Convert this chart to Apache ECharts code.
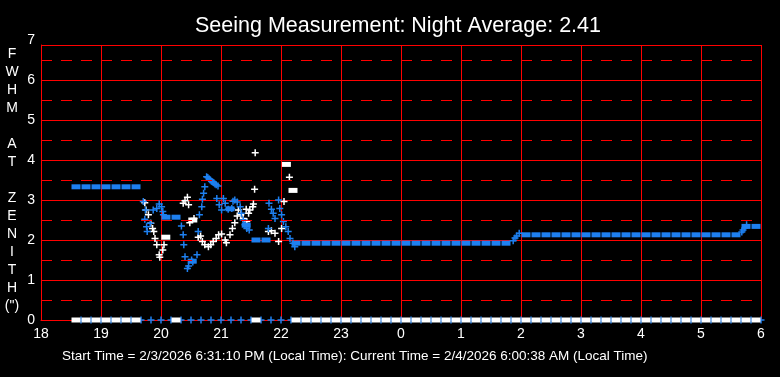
<!DOCTYPE html>
<html>
<head>
<meta charset="utf-8">
<script src="https://cdn.jsdelivr.net/npm/echarts@6/dist/echarts.min.js"></script>
<style>
  html, body { margin: 0; padding: 0; background: #000; }
  #chart { width: 780px; height: 377px; }
</style>
</head>
<body>
<div id="chart"></div>
<script>
const FONT = '"Liberation Sans Narrow", "Liberation Sans", Arial, sans-serif';
const BLUE = "#1e80f0";

// 10 minute slots over the night
const slots = [
  "18:35", "18:45", "18:55",
  "19:05", "19:15", "19:25", "19:35", "19:45", "19:55",
  "20:05", "20:15", "20:25", "20:35", "20:45", "20:55",
  "21:05", "21:15", "21:25", "21:35", "21:45", "21:55",
  "22:05", "22:15", "22:25", "22:35", "22:45", "22:55",
  "23:05", "23:15", "23:25", "23:35", "23:45", "23:55",
  "00:05", "00:15", "00:25", "00:35", "00:45", "00:55",
  "01:05", "01:15", "01:25", "01:35", "01:45", "01:55",
  "02:05", "02:15", "02:25", "02:35", "02:45", "02:55",
  "03:05", "03:15", "03:25", "03:35", "03:45", "03:55",
  "04:05", "04:15", "04:25", "04:35", "04:45", "04:55",
  "05:05", "05:15", "05:25", "05:35", "05:45", "05:55",
];

// blue steady readings per slot (null = none)
const blueLevel = [
  3.33, 3.33, 3.33,
  3.33, 3.33, 3.33, 3.33, null, null,
  2.57, 2.57, null, null, null, null,
  null, null, null, 2.0, 2.0, null,
  null, 1.92, 1.92, 1.92, 1.92, 1.92,
  1.92, 1.92, 1.92, 1.92, 1.92, 1.92,
  1.92, 1.92, 1.92, 1.92, 1.92, 1.92,
  1.92, 1.92, 1.92, 1.92, 1.92, null,
  2.13, 2.13, 2.13, 2.13, 2.13, 2.13,
  2.13, 2.13, 2.13, 2.13, 2.13, 2.13,
  2.13, 2.13, 2.13, 2.13, 2.13, 2.13,
  2.13, 2.13, 2.13, 2.13, 2.34, 2.34,
];

// zero readings per slot
const whiteZero = [
  0, 0, 0,
  0, 0, 0, 0, null, null,
  null, 0, null, null, null, null,
  null, null, null, 0, null, null,
  null, 0, 0, 0, 0, 0,
  0, 0, 0, 0, 0, 0,
  0, 0, 0, 0, 0, 0,
  0, 0, 0, 0, 0, 0,
  0, 0, 0, 0, 0, 0,
  0, 0, 0, 0, 0, 0,
  0, 0, 0, 0, 0, 0,
  0, 0, 0, 0, 0, 0,
];
const blueZero = [
  0, 0, 0,
  0, 0, 0, 0, 0, 0,
  0, 0, 0, 0, 0, 0,
  0, 0, 0, 0, 0, 0,
  0, 0, 0, 0, 0, 0,
  0, 0, 0, 0, 0, 0,
  0, 0, 0, 0, 0, 0,
  0, 0, 0, 0, 0, 0,
  0, 0, 0, 0, 0, 0,
  0, 0, 0, 0, 0, 0,
  0, 0, 0, 0, 0, 0,
  0, 0, 0, 0, 0, 0,
];

// scattered readings [hour, fwhm] (hours past 24 are after midnight)
const bluePoints = [
  [19.705, 2.96], [19.74, 2.75], [19.73, 2.52], [19.76, 2.33], [19.77, 2.21],
  [19.82, 2.42], [19.87, 2.75], [19.93, 2.79], [19.97, 2.9], [20.01, 2.83],
  [20.03, 2.71], [20.04, 2.63], [20.34, 2.35], [20.37, 2.13], [20.38, 1.88],
  [20.4, 1.58], [20.46, 1.35], [20.44, 1.29], [20.51, 1.5], [20.53, 1.45],
  [20.6, 1.63], [20.62, 2.21], [20.64, 2.63], [20.68, 2.83], [20.69, 3.02],
  [20.71, 3.17], [20.73, 3.33], [20.76, 3.58], [20.78, 3.56], [20.8, 3.53],
  [20.82, 3.5], [20.84, 3.47], [20.86, 3.45], [20.88, 3.43], [20.9, 3.4],
  [20.92, 3.38], [20.95, 3.35], [20.93, 3.04], [20.97, 2.88], [21.04, 3.04],
  [21.07, 2.92], [21.01, 2.75], [21.12, 2.77], [21.18, 2.79], [21.2, 2.97],
  [21.23, 3.0], [21.27, 2.95], [21.32, 2.83], [21.34, 2.67], [21.37, 2.5],
  [21.4, 2.38], [21.43, 2.29], [21.47, 2.25], [21.8, 2.92], [21.84, 2.77],
  [21.87, 2.67], [21.9, 2.54], [21.79, 2.29], [21.96, 3.0], [21.98, 2.79],
  [22.01, 2.63], [22.04, 2.46], [22.08, 2.33], [22.12, 2.21], [22.15, 2.04],
  [22.2, 1.92], [22.23, 1.83],
  [25.87, 1.98], [25.9, 2.05], [25.93, 2.1], [25.97, 2.17],
  [29.68, 2.2], [29.7, 2.25], [29.73, 2.3], [29.76, 2.38],
];
const blueBlocks = [[21.15, 2.78], [20.52, 1.47], [21.42, 2.37]];

const whitePoints = [
  [19.73, 2.93], [19.75, 2.75], [19.79, 2.63], [19.83, 2.42], [19.86, 2.29],
  [19.88, 2.21], [19.9, 2.04], [19.93, 1.88], [19.97, 1.63], [19.98, 1.57],
  [20.03, 1.75], [20.05, 1.88], [20.37, 2.92], [20.4, 2.98], [20.44, 3.07],
  [20.46, 2.88], [20.48, 2.43], [20.55, 2.54], [20.62, 2.07], [20.66, 2.1],
  [20.69, 1.96], [20.73, 1.88], [20.79, 1.83], [20.83, 1.88], [20.87, 1.96],
  [20.92, 2.04], [20.96, 2.13], [21.01, 2.15], [21.07, 2.0], [21.09, 1.93],
  [21.15, 2.13], [21.19, 2.29], [21.23, 2.43], [21.27, 2.6], [21.29, 2.75],
  [21.33, 2.63], [21.37, 2.54], [21.42, 2.77], [21.46, 2.67], [21.48, 2.75],
  [21.53, 2.83], [21.54, 2.9], [21.43, 2.46], [21.56, 3.27], [21.57, 4.18],
  [21.79, 2.21], [21.84, 2.23], [21.9, 2.17], [21.96, 1.96], [22.01, 2.29],
  [22.05, 2.96], [22.14, 3.57],
];
const whiteBlocks = [[20.08, 2.07], [20.53, 2.5], [22.09, 3.89], [22.2, 3.24]];

const yTicks = ["0", "1", "2", "3", "4", "5", "6", "7"];
const halfLines = [0.5, 1.5, 2.5, 3.5, 4.5, 5.5, 6.5];

const title = "Seeing Measurement: Night Average: 2.41";
const footer = "Start Time = 2/3/2026 6:31:10 PM (Local Time): Current Time = 2/4/2026 6:00:38 AM (Local Time)";
const yName = ["F", "W", "H", "M", "", "A", "T", "", "Z", "E", "N", "I", "T", "H", "(\")"];

function slotHour(s) {
  const [h, m] = s.split(":").map(Number);
  const v = h + m / 60;
  return v < 12 ? v + 24 : v;
}
function bySlot(values) {
  return slots.map((s, i) => [slotHour(s), values[i]]).filter((p) => p[1] !== null);
}

const PLUS = "path://M2.75,0h1.5v2.75h2.75v1.5h-2.75v2.75h-1.5v-2.75h-2.75v-1.5h2.75z";

function marks(data, symbol, size, color, z, extra) {
  return Object.assign({
    type: "scatter",
    data: data,
    symbol: symbol,
    symbolSize: size,
    itemStyle: { color: color, opacity: 1 },
    emphasis: { disabled: true },
    z: z,
  }, extra || {});
}

const chart = echarts.init(document.getElementById("chart"));
chart.setOption({
  backgroundColor: "#000",
  animation: false,
  title: {
    text: title,
    left: 393,
    top: 10,
    textAlign: "center",
    textStyle: { color: "#fff", fontFamily: FONT, fontSize: 21.5, fontWeight: "normal" },
  },
  graphic: [
    {
      type: "text",
      left: 62,
      top: 349,
      style: { text: footer, fill: "#fff", font: "13.5px " + FONT },
    },
    {
      type: "text",
      x: 12,
      y: 45,
      style: {
        text: yName.join("\n"),
        fill: "#fff",
        font: '14px "Liberation Sans", Arial, sans-serif',
        lineHeight: 18,
        align: "center",
      },
    },
  ],
  grid: { left: 41, right: 19, top: 45, bottom: 57 },
  xAxis: {
    type: "value",
    min: 18,
    max: 30,
    interval: 1,
    axisLine: { show: true, lineStyle: { color: "#f00", width: 1 } },
    axisTick: { show: false },
    axisLabel: {
      color: "#fff",
      fontFamily: FONT,
      fontSize: 14,
      margin: 7,
      showMinLabel: true,
      showMaxLabel: true,
      formatter: (v) => String(v % 24),
    },
    splitLine: { show: true, lineStyle: { color: "#f00", width: 1 } },
  },
  yAxis: {
    type: "value",
    min: 0,
    max: 6.875,
    interval: 1,
    axisLine: { show: true, lineStyle: { color: "#f00", width: 1 } },
    axisTick: { show: false },
    axisLabel: {
      color: "#fff",
      fontFamily: FONT,
      fontSize: 14,
      margin: 6,
      showMinLabel: true,
      showMaxLabel: true,
      formatter: (v) => (v > 6.5 ? "{t|" + yTicks[7] + "}" : yTicks[Math.round(v)]),
      rich: { t: { color: "#fff", fontFamily: FONT, fontSize: 14, padding: [0, 0, 10, 0] } },
    },
    splitLine: { show: true, lineStyle: { color: "#f00", width: 1 } },
  },
  series: [
    marks(bySlot(blueZero), PLUS, 7, BLUE, 1, {
      symbolOffset: [5, 0],
      markLine: {
        silent: true,
        symbol: "none",
        label: { show: false },
        lineStyle: { color: "#f00", width: 1, type: [11, 9], opacity: 1 },
        data: halfLines.map((v) => ({ yAxis: v })),
      },
    }),
    marks(bySlot(whiteZero), "rect", [9, 5], "#fff", 2),
    marks(whitePoints, PLUS, 7, "#fff", 3),
    marks(whiteBlocks, "rect", [9, 5], "#fff", 3),
    marks(bluePoints, PLUS, 7, BLUE, 4),
    marks(bySlot(blueLevel).concat(blueBlocks), "rect", [9, 5], BLUE, 4),
  ],
});
</script>
</body>
</html>
